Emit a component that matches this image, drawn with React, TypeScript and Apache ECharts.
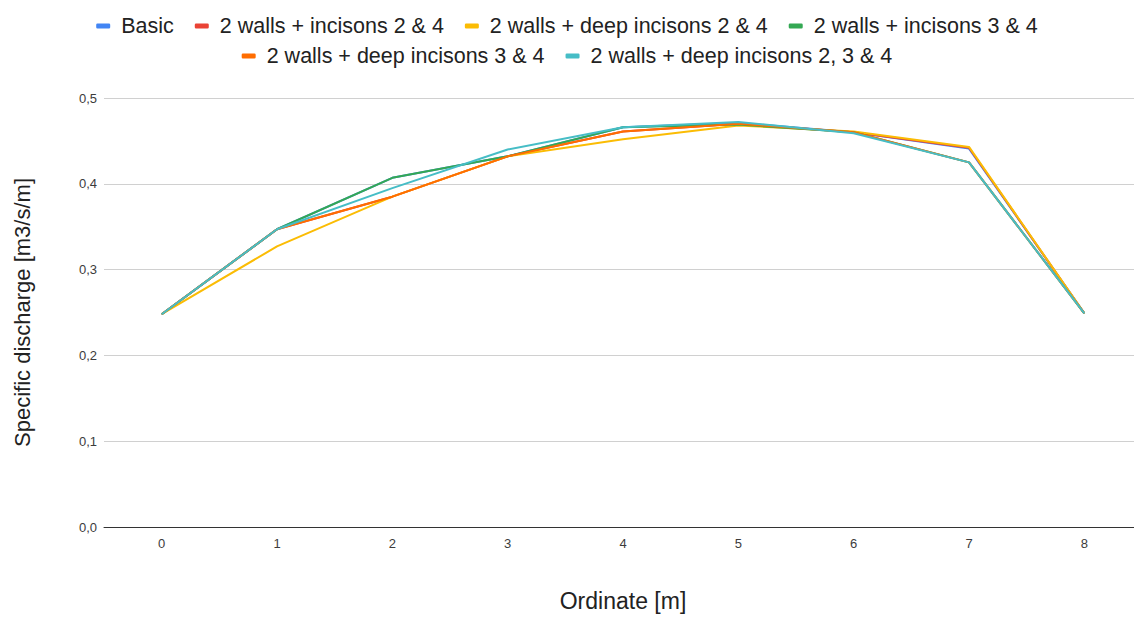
import React, { useEffect, useRef } from "react";
import * as echarts from "echarts";

const categories = ["0", "1", "2", "3", "4", "5", "6", "7", "8"];
const seriesNames = [
  "Basic",
  "2 walls + incisons 2 & 4",
  "2 walls + deep incisons 2 & 4",
  "2 walls + incisons 3 & 4",
  "2 walls + deep incisons 3 & 4",
  "2 walls + deep incisons 2, 3 & 4",
];
const basic = [0.248, 0.347, 0.407, 0.432, 0.466, 0.471, 0.46, 0.441, 0.249];
const walls24 = [0.248, 0.347, 0.385, 0.432, 0.461, 0.47, 0.46, 0.442, 0.249];
const deep24 = [0.248, 0.327, 0.385, 0.432, 0.452, 0.468, 0.461, 0.443, 0.249];
const walls34 = [0.248, 0.347, 0.407, 0.432, 0.466, 0.469, 0.46, 0.425, 0.249];
const deep34 = [0.248, 0.347, 0.385, 0.432, 0.461, 0.47, 0.46, 0.425, 0.249];
const deep234 = [0.248, 0.347, 0.395, 0.44, 0.466, 0.472, 0.459, 0.425, 0.249];
const colors = ["#4285F4", "#EA4335", "#FBBC04", "#34A853", "#FF6D01", "#46BDC6"];
const yTicks = [0, 0.1, 0.2, 0.3, 0.4, 0.5];

export default function App() {
  const ref = useRef<HTMLDivElement>(null);
  useEffect(() => {
    if (!ref.current) return;
    const chart = echarts.init(ref.current, undefined, { renderer: "svg" });
    const values = [basic, walls24, deep24, walls34, deep34, deep234];
    const font = "'Liberation Sans', Arial, sans-serif";
    const legendText = { fontSize: 21.5, color: "#222", fontFamily: font, padding: [0, 0, 0, 6] };
    const legendBase = {
      left: "center",
      itemWidth: 14,
      itemHeight: 5,
      itemGap: 21,
      icon: "roundRect",
      textStyle: legendText,
    };
    chart.setOption({
      animation: false,
      color: colors,
      textStyle: { fontFamily: font },
      legend: [
        { ...legendBase, data: seriesNames.slice(0, 4), top: 10 },
        { ...legendBase, data: seriesNames.slice(4), top: 40 },
      ],
      grid: { left: 104, right: -8, top: 98, bottom: 90, containLabel: false, outerBoundsMode: "none" },
      xAxis: {
        type: "category",
        data: categories,
        boundaryGap: true,
        name: "Ordinate [m]",
        nameLocation: "middle",
        nameGap: 62,
        nameTextStyle: { fontSize: 23, color: "#222", fontFamily: font },
        axisLine: { lineStyle: { color: "#333", width: 1 } },
        axisTick: { show: false },
        axisLabel: { fontSize: 13, color: "#3c3c3c", margin: 10, fontFamily: font },
      },
      yAxis: {
        type: "value",
        min: 0,
        max: 0.5,
        interval: 0.1,
        name: "Specific discharge [m3/s/m]",
        nameLocation: "middle",
        nameGap: 71,
        nameRotate: 90,
        nameTextStyle: { fontSize: 22, color: "#222", fontFamily: font },
        axisLine: { show: false },
        axisTick: { show: false },
        splitLine: { lineStyle: { color: "#d0d0d0", width: 1 } },
        axisLabel: {
          fontSize: 13,
          color: "#3c3c3c",
          margin: 7,
          fontFamily: font,
          formatter: (v: number) => {
            const t = yTicks.find((x) => Math.abs(x - v) < 1e-9);
            return (t ?? v).toFixed(1).replace(".", ",");
          },
        },
      },
      series: seriesNames.map((name, i) => ({
        name,
        type: "line",
        data: values[i],
        showSymbol: false,
        symbol: "none",
        lineStyle: { width: 2, color: colors[i] },
        itemStyle: { color: colors[i] },
      })),
    });
    return () => chart.dispose();
  }, []);
  return (
    <div
      ref={ref}
      style={{ position: "fixed", left: 0, top: 0, width: 1134, height: 617, background: "#fff" }}
    />
  );
}
